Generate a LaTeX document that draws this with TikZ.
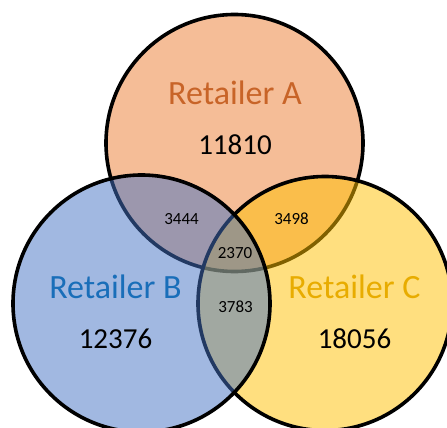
\documentclass[tikz,border=0pt]{standalone}
\usepackage{fontspec}
\setmainfont{Carlito}
\definecolor{setA}{RGB}{237,125,49}
\definecolor{setB}{RGB}{68,114,196}
\definecolor{setC}{RGB}{255,192,0}
\definecolor{txtA}{RGB}{200,100,40}
\definecolor{txtB}{RGB}{25,110,185}
\definecolor{txtC}{RGB}{232,172,0}
\tikzset{
  setcircle/.style={draw=black, line width=3.6pt, fill opacity=0.5},
  biglabel/.style={anchor=base, inner sep=0pt, font=\fontsize{34}{40}\selectfont},
  bignum/.style={anchor=base, inner sep=0pt, text=black, font=\fontsize{29}{34}\selectfont},
  smallnum/.style={anchor=base, inner sep=0pt, text=black, font=\fontsize{17}{20}\selectfont}
}
\begin{document}
\begin{tikzpicture}[x=1pt,y=-1pt]
\useasboundingbox (0,0) rectangle (447,428);
\fill[white] (0,0) rectangle (447,428);
\clip (0,0) rectangle (447,428);
% circles: A first, then C, then B
\path[setcircle, fill=setA] (234.5,143) circle[radius=128.5pt];
\path[setcircle, fill=setC] (325,303.5) circle[radius=127pt];
\path[setcircle, fill=setB] (141.5,303.5) circle[radius=128.5pt];
% labels
\node[biglabel, text=txtA] (labA) at (235,104) {Retailer A};
\node[bignum] (numA) at (235,154) {11810};
\node[biglabel, text=txtB] (labB) at (115.5,298) {Retailer B};
\node[bignum] (numB) at (115.5,348) {12376};
\node[biglabel, text=txtC] (labC) at (354.5,298) {Retailer C};
\node[bignum] (numC) at (354.5,348) {18056};
\node[smallnum] (nAB) at (181.5,224) {3444};
\node[smallnum] (nAC) at (291.5,224) {3498};
\node[smallnum] (nABC) at (235,258.5) {2370};
\node[smallnum] (nBC) at (235.5,312) {3783};
\end{tikzpicture}
\end{document}
